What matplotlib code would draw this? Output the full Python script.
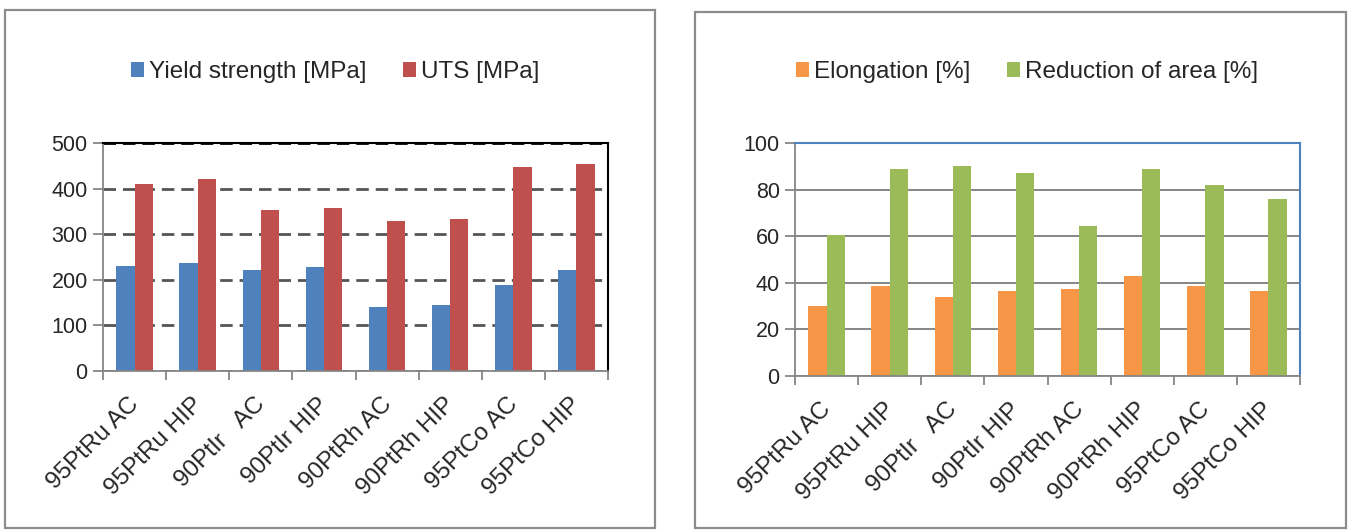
import numpy as np
import matplotlib
matplotlib.use("Agg")
import matplotlib.pyplot as plt
from matplotlib.patches import Rectangle
from matplotlib.transforms import ScaledTranslation

plt.rcParams['font.family'] = ['Liberation Sans', 'DejaVu Sans']

# === Data ===
samples = ['95PtRu AC', '95PtRu HIP', '90PtIr   AC', '90PtIr HIP',
           '90PtRh AC', '90PtRh HIP', '95PtCo AC', '95PtCo HIP']
yield_strength = [231, 236, 221, 227, 140, 145, 188, 221]   # MPa
uts = [411, 420, 353, 358, 330, 334, 448, 453]              # MPa
elongation = [30, 38.5, 34, 36.5, 37.5, 43, 38.5, 36.5]     # %
reduction_area = [60.5, 89, 90, 87, 64.5, 89, 82, 76]       # %

W, H = 1348, 532
fig = plt.figure(figsize=(W / 100, H / 100), dpi=100)


def px_axes(x0, y0, x1, y1):
    # pixel box (top-left origin) -> figure axes
    return fig.add_axes([x0 / W, 1 - y1 / H, (x1 - x0) / W, (y1 - y0) / H])


# panel frames
for (x0, y0, x1, y1) in [(5, 10, 655, 528), (695, 12, 1346, 528)]:
    fig.patches.append(Rectangle((x0 / W, 1 - y1 / H), (x1 - x0) / W, (y1 - y0) / H,
                                 transform=fig.transFigure, fill=False,
                                 edgecolor='#8c8c8c', linewidth=1.6))

x = np.arange(len(samples))
w = 0.29
grey = '#868686'
shift = ScaledTranslation(9 / 100, -3 / 100, fig.dpi_scale_trans)


def style_axis(ax, ymax, step):
    ax.set_xlim(-0.5, len(samples) - 0.5)
    ax.set_ylim(0, ymax)
    ax.set_yticks(np.arange(0, ymax + 1, step))
    ax.set_xticks(x)
    ax.set_xticklabels(samples, rotation=45, ha='right', fontsize=17.5,
                       color='#262626')
    ax.set_xticks(np.arange(-0.5, len(samples)), minor=True)
    ax.tick_params(axis='x', which='major', length=0, pad=14)
    ax.tick_params(axis='x', which='minor', length=6.5, width=1.3, color=grey, direction='out')
    ax.tick_params(axis='y', length=7, width=1.3, color=grey, labelsize=15.5,
                   labelcolor='#262626', pad=4)
    # nudge the slanted labels like the original
    for lbl in ax.get_xticklabels():
        lbl.set_transform(lbl.get_transform() + shift)
    ax.spines['left'].set_color(grey)
    ax.spines['bottom'].set_color(grey)
    ax.spines['left'].set_linewidth(1.3)
    ax.spines['bottom'].set_linewidth(1.3)
    ax.set_axisbelow(True)


legend_kw = dict(loc='center', bbox_transform=fig.transFigure, ncol=2, frameon=False,
                 fontsize=17.5, handlelength=0.55, handleheight=0.55, handletextpad=0.2,
                 columnspacing=1.5, labelcolor='#262626')

# === Left: strength ===
ax1 = px_axes(103, 143, 608, 371)
ax1.bar(x - w / 2, yield_strength, w, color='#4F81BD', label='Yield strength [MPa]')
ax1.bar(x + w / 2, uts, w, color='#C0504D', label='UTS [MPa]')
style_axis(ax1, 500, 100)
ax1.grid(axis='y', color='#555555', linestyle=(0, (4.5, 2.5)), linewidth=2)
ax1.yaxis.get_gridlines()[-1].set_color('black')
ax1.spines['top'].set_color('black')
ax1.spines['right'].set_color('black')
ax1.spines['top'].set_linewidth(1.5)
ax1.spines['right'].set_linewidth(1.5)
ax1.legend(bbox_to_anchor=(335 / W, 1 - 72 / H), **legend_kw)

# === Right: ductility ===
ax2 = px_axes(795, 143, 1300, 376)
ax2.bar(x - w / 2, elongation, w, color='#F79646', label='Elongation [%]')
ax2.bar(x + w / 2, reduction_area, w, color='#9BBB59', label='Reduction of area [%]')
style_axis(ax2, 100, 20)
ax2.grid(axis='y', color=grey, linestyle='-', linewidth=1.4)
ax2.spines['top'].set_color('#4F81BD')
ax2.spines['right'].set_color('#4F81BD')
ax2.spines['top'].set_linewidth(1.5)
ax2.spines['right'].set_linewidth(1.5)
ax2.legend(bbox_to_anchor=(1027 / W, 1 - 72 / H), **legend_kw)

fig.savefig('out.png', dpi=100)
